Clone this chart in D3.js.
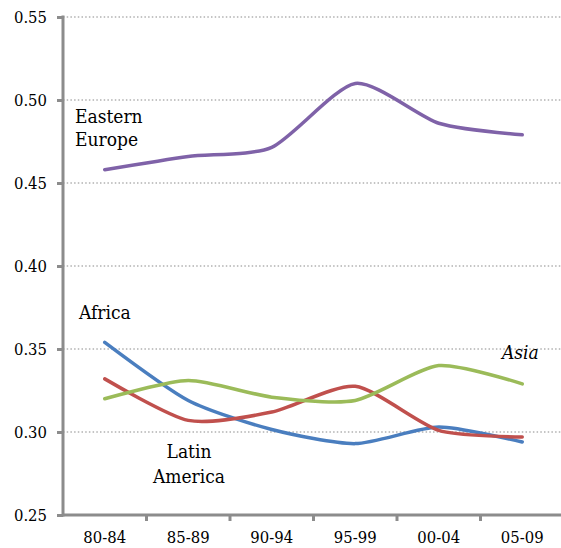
<!DOCTYPE html>
<html>
<head>
<meta charset="utf-8">
<script src="https://cdn.jsdelivr.net/npm/d3@7"></script>
<style>
  body { margin: 0; background: #fff; }
</style>
</head>
<body>
<div id="chart"></div>
<script>
// Periods on the x axis
const periods = ['80-84', '85-89', '90-94', '95-99', '00-04', '05-09'];
const yTicks = [0.25, 0.30, 0.35, 0.40, 0.45, 0.50, 0.55];

// Values
const easternEurope = [0.458, 0.466, 0.4715, 0.510, 0.486, 0.479];
const africa        = [0.354, 0.319, 0.3015, 0.293, 0.303, 0.294];
const latinAmerica  = [0.332, 0.307, 0.312, 0.3275, 0.301, 0.297];
const asia          = [0.320, 0.331, 0.321, 0.319, 0.340, 0.329];

const series = [
    { name: 'Eastern Europe', values: easternEurope, color: '#7f62a8' },
    { name: 'Africa', values: africa, color: '#4a7ebf' },
    { name: 'Latin America', values: latinAmerica, color: '#c0504d' },
    { name: 'Asia', values: asia, color: '#9bbb59' }
];

const serif = '"DejaVu Serif Condensed", "DejaVu Serif", serif';

const width = 561, height = 548;
const margin = { top: 17, right: 0, bottom: 33, left: 63 };
const plotW = 501;
const plotH = height - margin.top - margin.bottom;

const svg = d3.select('#chart')
    .append('svg')
    .attr('width', width)
    .attr('height', height);

const g = svg.append('g')
    .attr('transform', `translate(${margin.left},${margin.top})`);

const x = d3.scaleBand().domain(periods).range([0, plotW]);
const y = d3.scaleLinear().domain([0.25, 0.55]).range([plotH, 0]);

// Dotted gridlines
g.selectAll('.grid')
    .data(yTicks.filter(d => d > 0.25))
    .join('line')
    .attr('class', 'grid')
    .attr('x1', 0)
    .attr('x2', width - margin.left)
    .attr('y1', d => y(d))
    .attr('y2', d => y(d))
    .attr('stroke', '#8a8a8a')
    .attr('stroke-width', 1.2)
    .attr('stroke-dasharray', '1.5,2.2');

// Y axis
const yAxis = g.append('g')
    .call(d3.axisLeft(y).tickValues(yTicks).tickFormat(d3.format('.2f')).tickSize(6).tickPadding(10));
yAxis.attr('font-size', 16.5).attr('font-family', null).style('font-family', serif);
yAxis.select('.domain').remove();
yAxis.selectAll('.tick line').attr('stroke', '#8c8c8c').attr('stroke-width', 3);
yAxis.selectAll('.tick text').style('font-family', serif).attr('fill', '#000');
g.append('line')
    .attr('x1', 0).attr('x2', 0)
    .attr('y1', y(0.55) - 1.5).attr('y2', plotH + 1.5)
    .attr('stroke', '#8c8c8c').attr('stroke-width', 3);

// X axis
const xAxis = g.append('g')
    .attr('transform', `translate(0,${plotH})`)
    .call(d3.axisBottom(x).tickSize(0).tickPadding(16));
xAxis.attr('font-size', 16.5).attr('font-family', null).style('font-family', serif);
xAxis.select('.domain').remove();
xAxis.selectAll('.tick text').style('font-family', serif).attr('fill', '#000');
g.append('line')
    .attr('x1', 0).attr('x2', width - margin.left)
    .attr('y1', plotH).attr('y2', plotH)
    .attr('stroke', '#8c8c8c').attr('stroke-width', 3);
g.selectAll('.xtick')
    .data(periods.slice(1))
    .join('line')
    .attr('class', 'xtick')
    .attr('x1', d => x(d)).attr('x2', d => x(d))
    .attr('y1', plotH).attr('y2', plotH + 6)
    .attr('stroke', '#8c8c8c').attr('stroke-width', 3);

// Smoothed lines
const line = d3.line()
    .x((d, i) => x(periods[i]) + x.bandwidth() / 2)
    .y(d => y(d))
    .curve(d3.curveCardinal.tension(0.3));

g.selectAll('.series')
    .data(series)
    .join('path')
    .attr('class', 'series')
    .attr('d', d => line(d.values))
    .attr('fill', 'none')
    .attr('stroke', d => d.color)
    .attr('stroke-width', 3.5)
    .attr('stroke-linecap', 'round');

// Series labels
const labels = [
    { lines: ['Eastern', 'Europe'], x: 75, y: 123, dy: 23, anchor: 'start', italic: false },
    { lines: ['Africa'], x: 79, y: 319, dy: 0, anchor: 'start', italic: false },
    { lines: ['Latin', 'America'], x: 189, y: 458, dy: 25, anchor: 'middle', italic: false },
    { lines: ['Asia'], x: 502, y: 359, dy: 0, anchor: 'start', italic: true }
];

labels.forEach(l => {
    const t = svg.append('text')
        .attr('x', l.x)
        .attr('y', l.y)
        .attr('text-anchor', l.anchor)
        .style('font-family', serif)
        .attr('font-size', 19)
        .attr('font-style', l.italic ? 'italic' : 'normal')
        .attr('fill', '#000');
    l.lines.forEach((s, i) => {
        t.append('tspan')
            .attr('x', l.x)
            .attr('dy', i === 0 ? 0 : l.dy)
            .text(s);
    });
});
</script>
</body>
</html>
